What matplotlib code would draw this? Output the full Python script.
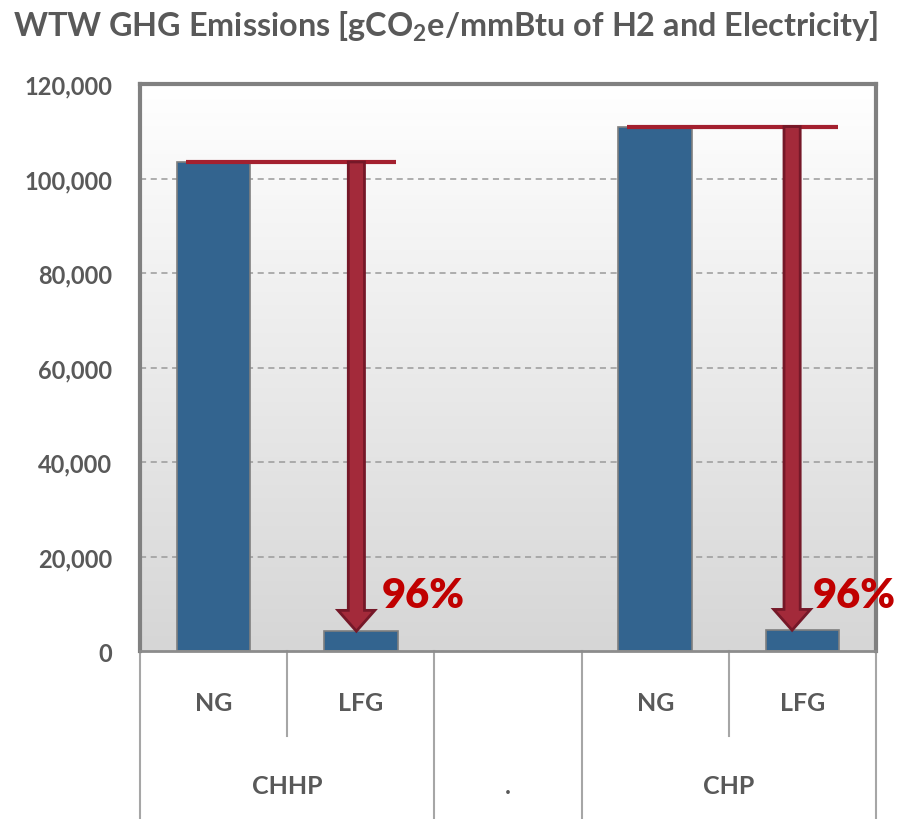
import numpy as np
import matplotlib
matplotlib.use("Agg")
import matplotlib.pyplot as plt
from matplotlib.colors import LinearSegmentedColormap
from matplotlib.patches import FancyArrow
import matplotlib.transforms as mtransforms

plt.rcParams['font.family'] = ['Lato', 'DejaVu Sans']
plt.rcParams['mathtext.default'] = 'regular'

# ---- data ----
sub_labels = ["NG", "LFG", "", "NG", "LFG"]
group_labels = ["CHHP", ".", "CHP"]
values = [103500, 4200, 0, 111000, 4400]
reduction_labels = ["96%", "96%"]
yticks = [0, 20000, 40000, 60000, 80000, 100000, 120000]

TXT = "#595959"
BAR = "#33648f"
RED = "#c00000"

fig = plt.figure(figsize=(9.08, 8.2), dpi=100)
ax = fig.add_axes([140/908, 1-652/820, (876-140)/908, (652-85)/820])

x = np.arange(len(values))
ax.set_xlim(-0.5, len(values) - 0.5)
ax.set_ylim(0, 120000)

# gradient background
cmap = LinearSegmentedColormap.from_list("bg", ["#ffffff", "#d6d6d6"])
ax.imshow(np.linspace(0, 1, 256).reshape(-1, 1), cmap=cmap, aspect='auto',
          extent=[-0.5, len(values) - 0.5, 0, 120000], origin='upper', zorder=0)

for yv in yticks[1:-1]:
    ax.axhline(yv, color="#9a9a9a", lw=1.1, ls=(0, (4, 3)), zorder=1)

mask = [v > 0 for v in values]
ax.bar(x[mask], np.array(values)[mask], width=0.5, color=BAR,
       edgecolor="#7f7f7f", linewidth=1.2, zorder=2)

# reduction arrows
pairs = [(0, 1, -0.03, 0.14), (3, 4, -0.07, 0.07)]
for (i_ng, i_lfg, dx, tx), lab in zip(pairs, reduction_labels):
    top = values[i_ng]
    bot = values[i_lfg]
    ax.plot([i_ng - 0.19, i_lfg + 0.24], [top, top], color="#a3202f", lw=3,
            solid_capstyle='butt', zorder=4)
    ax.add_patch(FancyArrow(i_lfg + dx, top, 0, -(top - bot), width=0.11,
                            head_width=0.25, head_length=4400,
                            length_includes_head=True, facecolor="#a32a3a",
                            edgecolor="#751828", linewidth=2, zorder=5))
    ax.text(i_lfg + tx, 9300, lab, color=RED, fontsize=30, fontweight='heavy',
            ha='left', va='baseline', zorder=6, clip_on=False)

# axes styling
for s in ['left', 'top', 'right']:
    ax.spines[s].set_color("#808080")
    ax.spines[s].set_linewidth(3)
ax.spines['bottom'].set_color("#8c8c8c")
ax.spines['bottom'].set_linewidth(2)

ax.set_yticks(yticks)
ax.set_yticklabels([f"{v:,}" for v in yticks])
ax.tick_params(axis='y', length=0, pad=20, labelsize=17, labelcolor=TXT)
for t in ax.get_yticklabels():
    t.set_fontweight('bold')
ax.set_xticks([])

# multi-level category axis
trans = mtransforms.blended_transform_factory(ax.transData, ax.transAxes)
full_bounds = [-0.5, 1.5, 2.5, 4.5]
short_bounds = [0.5, 3.5]
for b in full_bounds:
    ax.plot([b, b], [0, -0.30], transform=trans, color="#a6a6a6", lw=1.5, clip_on=False)
for b in short_bounds:
    ax.plot([b, b], [0, -0.150], transform=trans, color="#a6a6a6", lw=1.5, clip_on=False)

for xi, lab in zip(x, sub_labels):
    if lab:
        ax.text(xi, -0.09, lab, transform=trans, ha='center', va='center',
                fontsize=18, fontweight='bold', color=TXT)
group_pos = [0.5, 2, 3.5]
for gx, lab in zip(group_pos, group_labels):
    ax.text(gx, -0.238, lab, transform=trans, ha='center', va='center',
            fontsize=18, fontweight='bold', color=TXT)

fig.text(445/908, 1-27/820, "WTW GHG Emissions [gCO$_2$e/mmBtu of H2 and Electricity]",
         ha='center', va='center', fontsize=23.3, fontweight='bold', color=TXT)

fig.savefig("out.png", dpi=100)
